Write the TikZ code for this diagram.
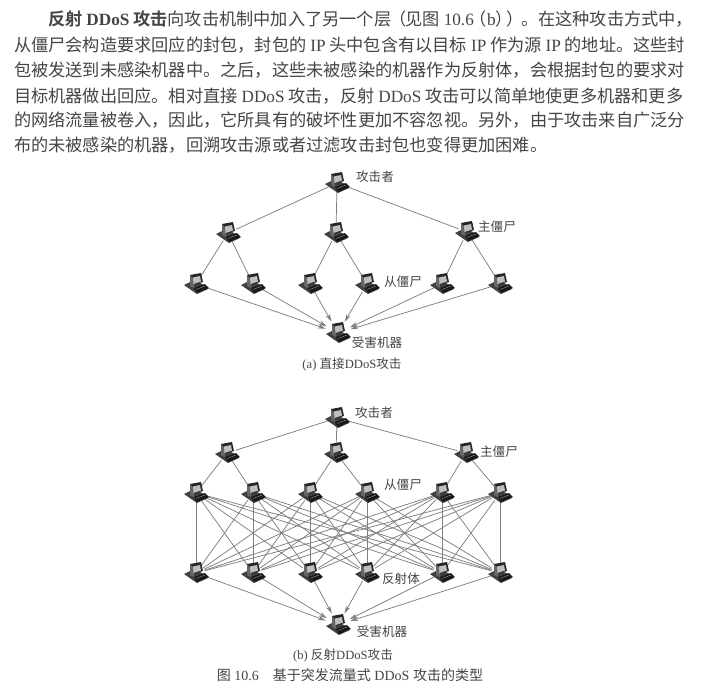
\documentclass[tikz,border=0pt]{standalone}
\usepackage{fontspec}
\setmainfont{Liberation Serif}
\newfontfamily\cjk{Noto Sans CJK SC}
\newfontfamily\cjkb{Noto Sans CJK SC}[BoldFont={Noto Sans CJK SC Bold}]
\usetikzlibrary{arrows.meta}
\definecolor{ink}{gray}{0.27}
\definecolor{wire}{gray}{0.5}
\tikzset{
  pcnode/.style={circle,minimum size=18pt,inner sep=0pt,outer sep=0pt},
  link/.style={draw=wire,line width=0.75pt},
  attack/.style={link,-{Stealth[length=8pt,width=4.5pt]},shorten >=4pt},
  bodytext/.style={anchor=west,inner sep=0pt,text=ink,font=\fontsize{17.2}{17.2}\selectfont},
  lab/.style={inner sep=0pt,text=ink,font=\cjk\fontsize{12.6}{12.6}\selectfont},
  captext/.style={inner sep=0pt,text=ink,font=\fontsize{12.6}{12.6}\selectfont},
  figcap/.style={inner sep=0pt,text=ink,font=\fontsize{14}{14}\selectfont},
  pc/.pic={
    \fill[black!75] (-12,1) -- (-2,-4) -- (8,1) -- (12,5) -- (1,10) -- cycle;
    \fill[black!85] (-6,-9) -- (5,-11) -- (7,-2) -- (-6,2) -- cycle;
    \fill[black!60] (-6,-9) -- (-2,-5) -- (-2,4) -- (-6,2) -- cycle;
    \fill[black!25] (-3,-6.5) -- (4,-8) -- (5,-2.5) -- (-2.5,0) -- cycle;
    \fill[black!90] (-2,4) -- (9,0) -- (13,4) -- (1,9) -- cycle;
    \draw[white!70!black,line width=0.3pt] (0,5.5) -- (9,2);
  }
}
\newcommand{\cj}[1]{{\cjk #1}}
\begin{document}
\begin{tikzpicture}[x=1pt,y=-1pt]
\useasboundingbox (0,0) rectangle (726,689);
\fill[white] (0,0) rectangle (726,689);
% body text
\node[bodytext] (t1) at (48,19) {\cjkb\textbf{反射} \textbf{\rmfamily DDoS} \textbf{攻击}\cjk 向攻击机制中加入了另一个层\hspace{-2pt}（\hspace{-1pt}见图 \rmfamily 10.6\cjk\hspace{-4pt}（\rmfamily b\cjk ）\hspace{-6pt}）\hspace{-3pt}。在这种攻击方式中，};
\node[bodytext] (t2) at (14,45) {\cjk 从僵尸会构造要求回应的封包，封包的 \rmfamily IP\cjk{} 头中包含有以目标 \rmfamily IP\cjk{} 作为源 \rmfamily IP\cjk{} 的地址。这些封};
\node[bodytext] (t3) at (14,70) {\cjk 包被发送到未感染机器中。之后，这些未被感染的机器作为反射体，会根据封包的要求对};
\node[bodytext] (t4) at (14,96) {\cjk 目标机器做出回应。相对直接 \rmfamily DDoS\cjk{} 攻击，反射 \rmfamily DDoS\cjk{} 攻击可以简单地使更多机器和更多};
\node[bodytext] (t5) at (14,120) {\cjk 的网络流量被卷入，因此，它所具有的破坏性更加不容忽视。另外，由于攻击来自广泛分};
\node[bodytext] (t6) at (14,145) {\cjk 布的未被感染的机器，回溯攻击源或者过滤攻击封包也变得更加困难。};
% diagram (a) nodes
\node[pcnode] (aA) at (337,183) {};
\node[pcnode] (aM1) at (228,233) {};
\node[pcnode] (aM2) at (336,233) {};
\node[pcnode] (aM3) at (467,232) {};
\node[pcnode] (aS1) at (196,284) {};
\node[pcnode] (aS2) at (253,284) {};
\node[pcnode] (aS3) at (310,284) {};
\node[pcnode] (aS4) at (367,284) {};
\node[pcnode] (aS5) at (442,284) {};
\node[pcnode] (aS6) at (500,284) {};
\node[pcnode] (aV) at (338,333) {};
\foreach \m in {1,2,3} \draw[link] (aA) -- (aM\m);
\draw[link] (aM1) -- (aS1); \draw[link] (aM1) -- (aS2);
\draw[link] (aM2) -- (aS3); \draw[link] (aM2) -- (aS4);
\draw[link] (aM3) -- (aS5); \draw[link] (aM3) -- (aS6);
\foreach \s in {1,...,6} \draw[attack] (aS\s) -- (aV);
% diagram (b) nodes
\node[pcnode] (bA) at (337,418) {};
\node[pcnode] (bM1) at (227,453) {};
\node[pcnode] (bM2) at (336,453) {};
\node[pcnode] (bM3) at (466,453) {};
\node[pcnode] (bS1) at (196,493) {};
\node[pcnode] (bS2) at (253,493) {};
\node[pcnode] (bS3) at (310,493) {};
\node[pcnode] (bS4) at (367,493) {};
\node[pcnode] (bS5) at (442,493) {};
\node[pcnode] (bS6) at (500,493) {};
\node[pcnode] (bR1) at (196,573) {};
\node[pcnode] (bR2) at (253,573) {};
\node[pcnode] (bR3) at (310,573) {};
\node[pcnode] (bR4) at (367,573) {};
\node[pcnode] (bR5) at (442,573) {};
\node[pcnode] (bR6) at (500,573) {};
\node[pcnode] (bV) at (338,625) {};
\foreach \m in {1,2,3} \draw[link] (bA) -- (bM\m);
\draw[link] (bM1) -- (bS1); \draw[link] (bM1) -- (bS2);
\draw[link] (bM2) -- (bS3); \draw[link] (bM2) -- (bS4);
\draw[link] (bM3) -- (bS5); \draw[link] (bM3) -- (bS6);
\foreach \s in {1,...,6} \foreach \r in {1,...,6} \draw[link] (bS\s) -- (bR\r);
\foreach \r in {1,...,6} \draw[attack] (bR\r) -- (bV);
% icons
\foreach \n in {aA,aM1,aM2,aM3,aS1,aS2,aS3,aS4,aS5,aS6,aV,bA,bM1,bM2,bM3,bS1,bS2,bS3,bS4,bS5,bS6,bR1,bR2,bR3,bR4,bR5,bR6,bV}
  \pic at (\n) {pc};
% labels
\node[lab] (l1) at (375,177) {攻击者};
\node[lab] (l2) at (497,227) {主僵尸};
\node[lab] (l3) at (403,282) {从僵尸};
\node[lab] (l4) at (377,343) {受害机器};
\node[captext] (c1) at (352,365) {(a) \cj{直接}DDoS\cj{攻击}};
\node[lab] (l5) at (374,413) {攻击者};
\node[lab] (l6) at (499,452) {主僵尸};
\node[lab] (l7) at (403,485) {从僵尸};
\node[lab] (l8) at (401,579) {反射体};
\node[lab] (l9) at (382,632) {受害机器};
\node[captext] (c2) at (343,656) {(b) \cj{反射}DDoS\cj{攻击}};
\node[figcap] (c3) at (350,675) {\cj{图} 10.6\quad\cj{基于突发流量式} DDoS \cj{攻击的类型}};
\end{tikzpicture}
\end{document}
